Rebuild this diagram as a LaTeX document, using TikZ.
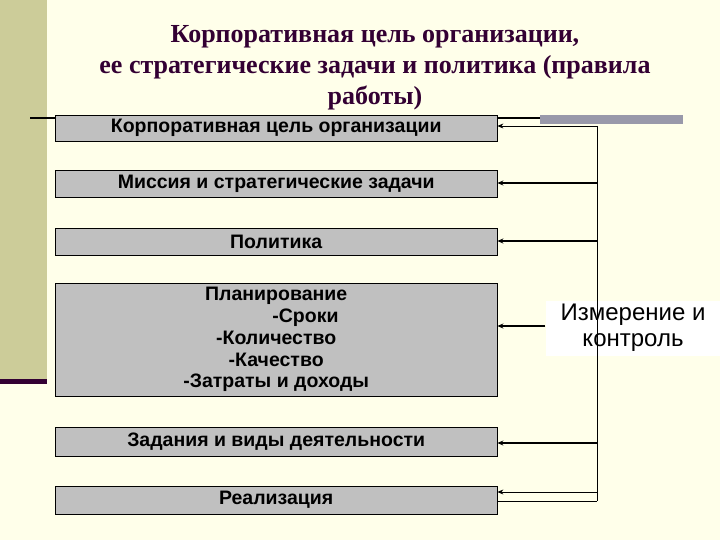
\documentclass[tikz,border=0pt]{standalone}
\usepackage{fontspec}
\setmainfont{Liberation Sans}
\newfontfamily\ttl{Liberation Serif}
\usetikzlibrary{arrows.meta}
\definecolor{bg}{HTML}{FFFFEA}
\definecolor{band}{HTML}{CCCC99}
\definecolor{dpurple}{HTML}{330033}
\definecolor{greyp}{HTML}{9999AA}
\definecolor{boxg}{HTML}{C0C0C0}
\begin{document}
\begin{tikzpicture}[x=1pt,y=-1pt,
  blk/.style={draw=black,fill=boxg,minimum width=442pt,anchor=north west,inner sep=0pt,font=\bfseries\fontsize{19.5}{22}\selectfont},
  arr/.style={-{Stealth[length=6pt,width=5pt]},line width=1.6pt}]
\useasboundingbox (0,0) rectangle (720,540);
\fill[bg] (0,0) rectangle (720,540);
\fill[band] (0,0) rectangle (47,381);
\fill[dpurple] (0,379) rectangle (47,384);
\draw[line width=1.6pt] (30,118) -- (55,118);
\draw[line width=1.6pt] (497,118) -- (540,118);
\fill[greyp] (540,115) rectangle (683,124);
\node[font=\ttl\bfseries\fontsize{26}{31}\selectfont,text=dpurple,align=center] (title) at (375,68)
 {Корпоративная цель организации,\\ее стратегические задачи и политика (правила\\работы)};
\node[blk,minimum height=26pt] (b1) at (55,115) {Корпоративная цель организации};
\node[blk,minimum height=27pt] (b2) at (55,170) {Миссия и стратегические задачи};
\node[blk,minimum height=27pt] (b3) at (55,228) {Политика};
\node[blk,minimum height=113pt,align=center,font=\bfseries\fontsize{19.5}{21.7}\selectfont] (b4) at (55,283)
 {Планирование\\\hspace*{3em}-Сроки\\-Количество\\-Качество\\-Затраты и доходы};
\node[blk,minimum height=29pt] (b5) at (55,427) {Задания и виды деятельности};
\node[blk,minimum height=28pt] (b6) at (55,486) {Реализация};
\node[fill=white,minimum width=175pt,minimum height=55pt,align=center,inner sep=0pt,font=\fontsize{24}{26}\selectfont] (mc) at (633,328) {Измерение и\\контроль};
\coordinate (top) at (597,126);
\coordinate (bot) at (597,501);
\draw (top) -- (bot);
\draw[arr,line width=0.8pt] (top) -- (b1.east |- top);
\draw[arr] (597,183) -- (b2.east |- 0,183);
\draw[arr] (597,241) -- (b3.east |- 0,241);
\draw[arr] (mc.west |- 0,326) -- (b4.east |- 0,326);
\draw[arr] (597,443) -- (b5.east |- 0,443);
\draw[arr,line width=0.8pt] (597,492) -- (b6.east |- 0,492);
\draw (bot) -- (b6.east |- bot);
\end{tikzpicture}
\end{document}
